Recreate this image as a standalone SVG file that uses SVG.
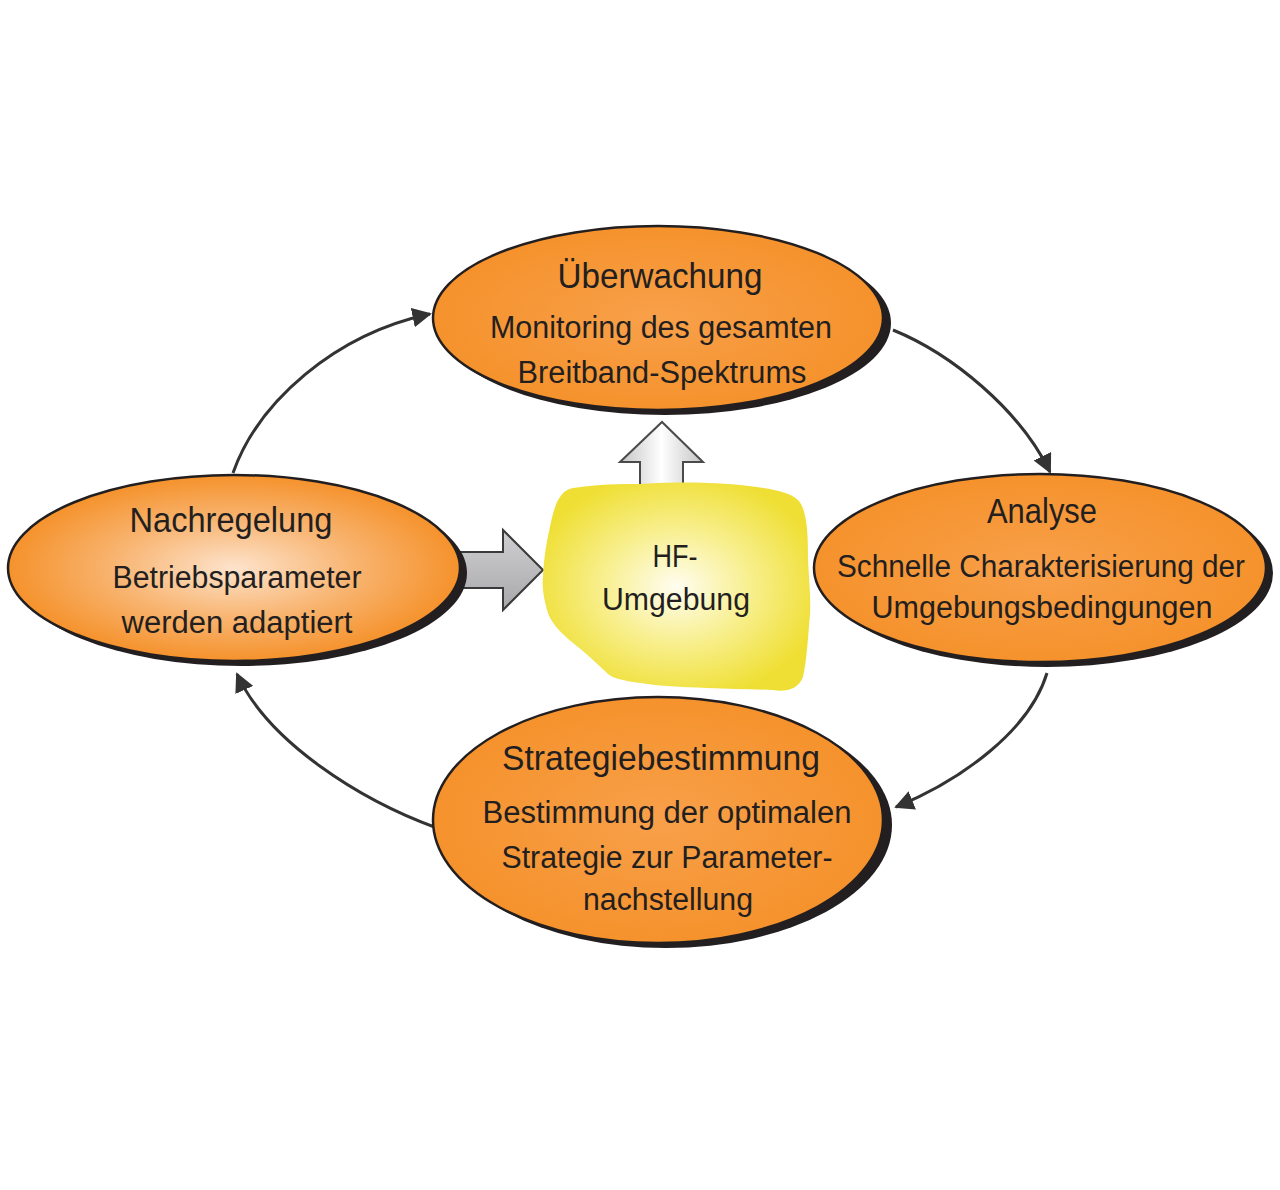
<svg xmlns="http://www.w3.org/2000/svg" width="1280" height="1190" viewBox="0 0 1280 1190">
<style>
text{font-family:"Liberation Sans Narrow","Liberation Sans",Arial,sans-serif;fill:#231f20;text-anchor:middle}
.t{font-size:35px}
.s{font-size:31px}
.el{stroke:#231f20;stroke-width:2.5}
.sh{fill:#231f20}
.con{fill:none;stroke:#333;stroke-width:3}
</style>
<defs>
<radialGradient id="og" cx="0.5" cy="0.5" r="0.5">
<stop offset="0" stop-color="#f8a04a"/>
<stop offset="1" stop-color="#f5922c"/>
</radialGradient>
<radialGradient id="ogl" cx="0.5" cy="0.5" r="0.5">
<stop offset="0" stop-color="#fde3cc"/>
<stop offset="0.55" stop-color="#f8b36e"/>
<stop offset="1" stop-color="#f5922c"/>
</radialGradient>
<radialGradient id="yg" cx="0.5" cy="0.5" r="0.55">
<stop offset="0" stop-color="#fffdf0"/>
<stop offset="0.5" stop-color="#f8ef8e"/>
<stop offset="1" stop-color="#efdf34"/>
</radialGradient>
<linearGradient id="ug" x1="0" y1="0" x2="1" y2="0">
<stop offset="0" stop-color="#c4c4c6"/>
<stop offset="0.5" stop-color="#ffffff"/>
<stop offset="1" stop-color="#c4c4c6"/>
</linearGradient>
<linearGradient id="rg" x1="0" y1="0" x2="0" y2="1">
<stop offset="0" stop-color="#d0d0d2"/>
<stop offset="1" stop-color="#a8a8aa"/>
</linearGradient>
<marker id="ah" viewBox="0 0 10 10" refX="9" refY="5" markerWidth="6.5" markerHeight="6.5" orient="auto" markerUnits="strokeWidth">
<path d="M0,0 L10,5 L0,10 z" fill="#333"/>
</marker>
</defs>
<rect width="1280" height="1190" fill="#fff"/>

<g id="connectors">
<path class="con" d="M233,473 C258,402 335,334 430,314" marker-end="url(#ah)"/>
<path class="con" d="M893,330 C952,354 1020,410 1050,472" marker-end="url(#ah)"/>
<path class="con" d="M1047,673 C1030,730 962,780 896,807" marker-end="url(#ah)"/>
<path class="con" d="M437,828 C360,800 268,742 237,674" marker-end="url(#ah)"/>
<path id="arrow-up" d="M640,488 L640,462 L620,462 L662,422 L703,462 L683,462 L683,488 z" fill="url(#ug)" stroke="#4a4a4a" stroke-width="2"/>
<path id="arrow-right" d="M455,552 L503,552 L503,530 L543,570 L503,610 L503,588 L455,588 z" fill="url(#rg)" stroke="#3a3a3a" stroke-width="2"/>
</g>

<g id="hf">
<path d="M573,488 C600,484 620,484 640,484 C660,483 690,481 740,485 C770,488 790,492 798,500 C808,510 808,540 808,560 C809,580 811,600 810,615 C808,635 807,660 803,677 C798,690 785,692 773,690 C750,689 730,689 707,688 C680,687 660,686 640,683 C620,680 612,678 607,673 C595,662 585,652 573,643 C560,632 550,622 547,610 C543,595 542,585 543,577 C544,555 547,540 550,527 C553,512 556,502 560,497 C564,491 568,489 573,488 z" fill="url(#yg)"/>
<text class="s" x="675" y="567" textLength="45" lengthAdjust="spacingAndGlyphs">HF-</text>
<text class="s" x="676" y="610" textLength="148" lengthAdjust="spacingAndGlyphs">Umgebung</text>
</g>

<g id="ueberwachung">
<ellipse class="sh" cx="665" cy="323" rx="226" ry="92"/>
<ellipse class="el" cx="658" cy="318" rx="225" ry="92" fill="url(#og)"/>
<text class="t" x="660" y="288" textLength="205" lengthAdjust="spacingAndGlyphs">Überwachung</text>
<text class="s" x="661" y="338" textLength="342" lengthAdjust="spacingAndGlyphs">Monitoring des gesamten</text>
<text class="s" x="662" y="383" textLength="289" lengthAdjust="spacingAndGlyphs">Breitband-Spektrums</text>
</g>

<g id="nachregelung">
<ellipse class="sh" cx="241" cy="573" rx="226" ry="93"/>
<ellipse class="el" cx="234" cy="568" rx="226" ry="93" fill="url(#ogl)"/>
<text class="t" x="231" y="532" textLength="203" lengthAdjust="spacingAndGlyphs">Nachregelung</text>
<text class="s" x="237" y="588" textLength="249" lengthAdjust="spacingAndGlyphs">Betriebsparameter</text>
<text class="s" x="237" y="633" textLength="231" lengthAdjust="spacingAndGlyphs">werden adaptiert</text>
</g>

<g id="analyse">
<ellipse class="sh" cx="1047" cy="573" rx="226" ry="94"/>
<ellipse class="el" cx="1040" cy="568" rx="226" ry="94" fill="url(#og)"/>
<text class="t" x="1042" y="523" textLength="110" lengthAdjust="spacingAndGlyphs">Analyse</text>
<text class="s" x="1041" y="577" textLength="408" lengthAdjust="spacingAndGlyphs">Schnelle Charakterisierung der</text>
<text class="s" x="1042" y="618" textLength="341" lengthAdjust="spacingAndGlyphs">Umgebungsbedingungen</text>
</g>

<g id="strategiebestimmung">
<ellipse class="sh" cx="666" cy="825" rx="226" ry="123"/>
<ellipse class="el" cx="658" cy="820" rx="225" ry="123" fill="url(#og)"/>
<text class="t" x="661" y="770" textLength="318" lengthAdjust="spacingAndGlyphs">Strategiebestimmung</text>
<text class="s" x="667" y="823" textLength="369" lengthAdjust="spacingAndGlyphs">Bestimmung der optimalen</text>
<text class="s" x="667" y="868" textLength="331" lengthAdjust="spacingAndGlyphs">Strategie zur Parameter-</text>
<text class="s" x="668" y="910" textLength="170" lengthAdjust="spacingAndGlyphs">nachstellung</text>
</g>
</svg>
